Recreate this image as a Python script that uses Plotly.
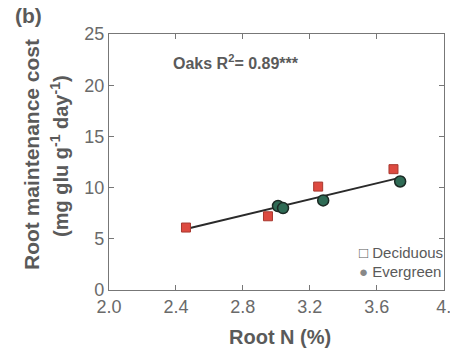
import plotly.graph_objects as go

# Data
decid_x = [2.46, 2.95, 3.25, 3.70]
decid_y = [6.1, 7.2, 10.1, 11.8]
ever_x = [3.01, 3.04, 3.28, 3.74]
ever_y = [8.2, 8.0, 8.75, 10.6]
fit_x = [2.46, 3.76]
fit_y = [5.95, 11.05]
x_ticks = [2.0, 2.4, 2.8, 3.2, 3.6, 4.0]
x_tick_text = ["2.0", "2.4", "2.8", "3.2", "3.6", "4."]
y_ticks = [0, 5, 10, 15, 20, 25]

W, H = 450, 353
ML, MR, MT, MB = 109, 6, 34, 63
GRAY = "#5a5a5a"
FONT = "Liberation Sans, Arial, sans-serif"

fig = go.Figure()
fig.add_trace(go.Scatter(x=fit_x, y=fit_y, mode="lines",
                         line=dict(color="#2a2a2a", width=2), showlegend=False))
fig.add_trace(go.Scatter(x=ever_x, y=ever_y, mode="markers", showlegend=False,
                         marker=dict(symbol="circle", size=11, color="#2f6b55",
                                     line=dict(color="#1c2a24", width=1.5))))
fig.add_trace(go.Scatter(x=decid_x, y=decid_y, mode="markers", showlegend=False,
                         marker=dict(symbol="square", size=9, color="#dd4a40",
                                     line=dict(color="#a8382f", width=1))))

fig.update_layout(
    width=W, height=H,
    margin=dict(l=ML, r=MR, t=MT, b=MB),
    paper_bgcolor="white", plot_bgcolor="white",
    font=dict(family=FONT, color=GRAY),
    xaxis=dict(range=[2.0, 4.002], tickvals=x_ticks, ticktext=x_tick_text,
               ticks="inside", ticklen=5, tickcolor="#777", mirror="ticks",
               showline=True, linecolor="#777", linewidth=1.2, showgrid=False,
               zeroline=False, ticklabeloverflow="allow", automargin=False,
               tickfont=dict(size=18, color="#6a6a6a")),
    yaxis=dict(range=[0, 25], tickvals=y_ticks, ticks="inside", ticklen=5,
               tickcolor="#777", mirror="ticks", showline=True, linecolor="#777",
               linewidth=1.2, showgrid=False, zeroline=False, automargin=False,
               tickfont=dict(size=18, color="#6a6a6a")),
)

pw = W - ML - MR
ph = H - MT - MB

def px_x(p):
    return (p - ML) / pw

def px_y(p):
    return (H - MB - p) / ph

ann = [
    dict(text="<b>(b)</b>", x=px_x(13), y=px_y(15), xanchor="left", yanchor="middle",
         font=dict(size=21, color=GRAY)),
    dict(text="<b>Oaks R<sup>2</sup>= 0.89***</b>", x=px_x(171), y=px_y(62),
         xanchor="left", yanchor="middle", font=dict(size=16, color=GRAY)),
    dict(text="<b>Root maintenance cost</b>", x=px_x(31), y=px_y(155), textangle=-90,
         xanchor="center", yanchor="middle", font=dict(size=21, color=GRAY)),
    dict(text="<b>(mg glu g<sup>-1</sup> day<sup>-1</sup>)</b>", x=px_x(59), y=px_y(156),
         textangle=-90, xanchor="center", yanchor="middle", font=dict(size=20, color=GRAY)),
    dict(text="<b>Root N (%)</b>", x=px_x(280), y=px_y(337), xanchor="center",
         yanchor="middle", font=dict(size=20, color=GRAY)),
    dict(text="□ Deciduous", x=px_x(357), y=px_y(252), xanchor="left", yanchor="middle",
         font=dict(size=15, color=GRAY)),
    dict(text="<span style='color:#888'>●</span> Evergreen", x=px_x(357), y=px_y(271),
         xanchor="left", yanchor="middle", font=dict(size=15, color=GRAY)),
]
for a in ann:
    a.update(xref="paper", yref="paper", showarrow=False)
fig.update_layout(annotations=ann)

fig.write_html(
    "out.html",
    config={"displayModeBar": False},
    post_script="document.body.style.margin='0';document.body.style.overflow='hidden';",
)
